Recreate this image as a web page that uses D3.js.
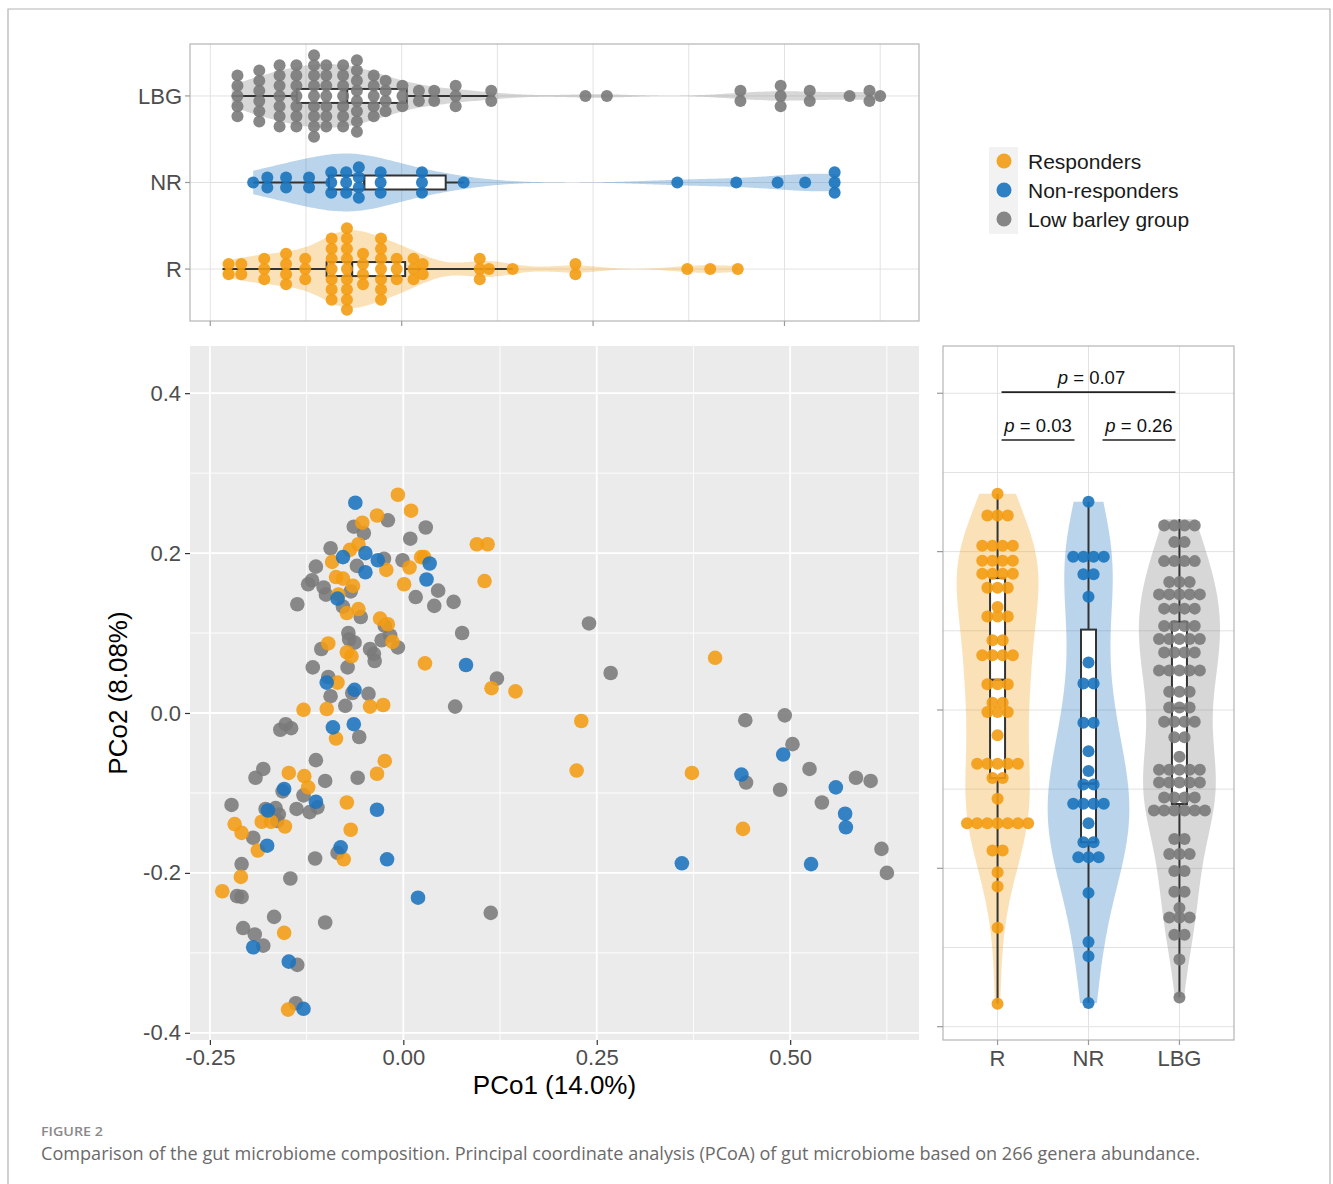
<!DOCTYPE html>
<html><head><meta charset="utf-8">
<script src="https://cdn.jsdelivr.net/npm/d3@7"></script>
<style>body{margin:0;background:#fff} svg{display:block}</style>
</head><body><svg id="c" width="1333" height="1184"></svg>
<script>
// ---------------- DATA ----------------
const groups = ["R", "NR", "LBG"];
const groupNames = ["Responders", "Non-responders", "Low barley group"];
const groupColors = ["#f39c12", "#1a73bd", "#7a7a7a"];

// [PCo1, PCo2] per sample
const respondersPCo = [
  [-0.007,0.273],[0.010,0.253],[-0.034,0.247],[-0.053,0.238],[-0.058,0.211],[-0.069,0.204],[-0.092,0.189],
  [-0.022,0.179],[0.008,0.182],[0.023,0.195],[0.027,0.195],[-0.087,0.170],[-0.078,0.168],[-0.065,0.159],
  [0.001,0.161],[-0.084,0.148],[-0.073,0.125],[-0.058,0.130],[-0.030,0.118],[-0.020,0.111],[-0.014,0.089],
  [-0.097,0.087],[-0.073,0.076],[-0.067,0.071],[0.028,0.062],[-0.085,0.038],[-0.129,0.004],[-0.099,0.005],
  [-0.043,0.008],[-0.026,0.010],[0.095,0.211],[0.109,0.211],[0.105,0.165],[0.114,0.031],[0.145,0.027],
  [0.230,-0.010],[0.224,-0.072],[0.403,0.069],[0.373,-0.075],[0.439,-0.145],[-0.087,-0.032],[-0.024,-0.060],
  [-0.034,-0.076],[-0.148,-0.075],[-0.128,-0.079],[-0.123,-0.093],[-0.073,-0.112],[-0.218,-0.139],[-0.209,-0.150],
  [-0.183,-0.136],[-0.171,-0.136],[-0.153,-0.142],[-0.068,-0.146],[-0.188,-0.172],[-0.077,-0.183],[-0.210,-0.205],
  [-0.234,-0.223],[-0.154,-0.275],[-0.149,-0.371]
];
const nonRespondersPCo = [
  [-0.062,0.263],[-0.078,0.195],[-0.049,0.200],[-0.033,0.191],[-0.049,0.176],[0.034,0.187],[0.030,0.167],
  [-0.085,0.143],[-0.099,0.038],[-0.063,0.029],[-0.064,-0.014],[-0.091,-0.018],[-0.154,-0.095],[-0.113,-0.111],
  [-0.175,-0.122],[-0.034,-0.121],[-0.176,-0.166],[-0.081,-0.168],[-0.021,-0.183],[0.019,-0.231],[-0.194,-0.293],
  [-0.148,-0.311],[-0.129,-0.370],[0.081,0.060],[0.491,-0.052],[0.437,-0.077],[0.559,-0.093],[0.571,-0.126],
  [0.572,-0.143],[0.360,-0.188],[0.527,-0.189]
];
const lowBarleyPCo = [
  [-0.020,0.241],[-0.064,0.233],[-0.051,0.225],[0.009,0.218],[0.029,0.232],[-0.094,0.206],[-0.025,0.193],
  [-0.001,0.191],[-0.060,0.184],[-0.113,0.183],[-0.118,0.166],[-0.123,0.161],[-0.103,0.157],[-0.100,0.148],
  [-0.068,0.152],[0.016,0.145],[-0.137,0.136],[-0.078,0.133],[-0.055,0.120],[-0.071,0.100],[-0.063,0.088],
  [-0.070,0.092],[-0.028,0.091],[-0.017,0.097],[-0.007,0.082],[-0.043,0.080],[-0.038,0.074],[-0.037,0.065],
  [-0.024,0.109],[-0.106,0.080],[-0.117,0.057],[-0.072,0.057],[-0.097,0.045],[-0.094,0.021],[-0.066,0.025],
  [-0.045,0.024],[-0.075,0.009],[0.045,0.153],[0.040,0.134],[0.065,0.139],[0.076,0.100],[0.121,0.043],
  [0.067,0.008],[0.240,0.112],[0.268,0.050],[0.442,-0.009],[0.493,-0.003],[0.503,-0.039],[0.443,-0.087],
  [0.525,-0.070],[0.487,-0.096],[0.541,-0.112],[0.585,-0.081],[0.604,-0.085],[0.618,-0.170],[0.625,-0.200],
  [0.113,-0.250],[-0.152,-0.014],[-0.159,-0.021],[-0.145,-0.019],[-0.057,-0.030],[-0.113,-0.059],[-0.181,-0.070],
  [-0.191,-0.081],[-0.101,-0.085],[-0.059,-0.081],[-0.129,-0.103],[-0.156,-0.098],[-0.222,-0.115],[-0.178,-0.120],
  [-0.165,-0.119],[-0.138,-0.120],[-0.121,-0.124],[-0.111,-0.118],[-0.161,-0.127],[-0.163,-0.135],[-0.194,-0.156],
  [-0.114,-0.182],[-0.085,-0.175],[-0.209,-0.189],[-0.146,-0.207],[-0.215,-0.229],[-0.209,-0.230],[-0.167,-0.255],
  [-0.101,-0.262],[-0.207,-0.269],[-0.192,-0.277],[-0.181,-0.291],[-0.137,-0.315],[-0.139,-0.363]
];

const xTicks = [-0.25, 0, 0.25, 0.5];
const xTickLabels = ["-0.25", "0.00", "0.25", "0.50"];
const xMinorTicks = [-0.125, 0.125, 0.375, 0.625];
const yTicks = [0.4, 0.2, 0, -0.2, -0.4];
const yTickLabels = ["0.4", "0.2", "0.0", "-0.2", "-0.4"];
const yMinorTicks = [0.3, 0.1, -0.1, -0.3];
const xTitle = "PCo1 (14.0%)";
const yTitle = "PCo2 (8.08%)";
// pairwise tests on PCo2
const pComparisons = [
  {a: "R", b: "NR", p: "0.03", level: 1},
  {a: "NR", b: "LBG", p: "0.26", level: 1},
  {a: "R", b: "LBG", p: "0.07", level: 2}
];
const figureLabel = "FIGURE 2";
const captionText = "Comparison of the gut microbiome composition. Principal coordinate analysis (PCoA) of gut microbiome based on 266 genera abundance.";

// ---------------- SETUP ----------------
const dataByGroup = {R: respondersPCo, NR: nonRespondersPCo, LBG: lowBarleyPCo};
const colorOf = Object.fromEntries(groups.map((g, i) => [g, groupColors[i]]));
const svg = d3.select("#c");
const FONT = "'Liberation Sans', Arial, Helvetica, sans-serif";

// panels
const pMain = {x0: 190, x1: 919, y0: 346, y1: 1040};
const pTop = {x0: 190, x1: 919, y0: 44, y1: 321};
const pRight = {x0: 943, x1: 1234, y0: 346, y1: 1040};

const xMain = d3.scaleLinear().domain([-0.2757, 0.6665]).range([pMain.x0, pMain.x1]);
const yMain = d3.scaleLinear().domain([-0.409, 0.459]).range([pMain.y1, pMain.y0]);
const xTop = d3.scaleLinear().domain([-0.2765, 0.6757]).range([pTop.x0, pTop.x1]);
const yTopCat = d3.scalePoint().domain(["R", "NR", "LBG"]).range([pTop.y1, pTop.y0]).padding(0.6);
const xRightCat = d3.scalePoint().domain(groups).range([pRight.x0, pRight.x1]).padding(0.6);
const yRight = d3.scaleLinear().domain([-0.4177, 0.4597]).range([pRight.y1 + 0.7, pRight.y0]);

// outer frame
svg.append("path").attr("d", "M8,1184V9H1330V1184").attr("fill", "none").attr("stroke", "#b4b4b4").attr("stroke-width", 1.2);

// ---------------- helpers ----------------
function kde(vals) {
  const s = vals.slice().sort(d3.ascending);
  const n = s.length;
  const sd = d3.deviation(s);
  const iqr = d3.quantileSorted(s, 0.75) - d3.quantileSorted(s, 0.25);
  const lo = Math.min(sd, iqr / 1.34) || sd;
  const bw = 0.9 * lo * Math.pow(n, -0.2);
  const mn = s[0], mx = s[n - 1];
  const pts = [];
  for (let i = 0; i < 256; i++) {
    const x = mn + (mx - mn) * i / 255;
    let d = 0;
    for (const v of s) { const u = (x - v) / bw; d += Math.exp(-0.5 * u * u); }
    pts.push([x, d / (n * bw * Math.sqrt(2 * Math.PI))]);
  }
  return pts;
}
function boxStats(vals) {
  const s = vals.slice().sort(d3.ascending);
  const q1 = d3.quantileSorted(s, 0.25), med = d3.quantileSorted(s, 0.5), q3 = d3.quantileSorted(s, 0.75);
  const iqr = q3 - q1;
  const lo = d3.min(s.filter(v => v >= q1 - 1.5 * iqr));
  const hi = d3.max(s.filter(v => v <= q3 + 1.5 * iqr));
  return {q1, med, q3, lo, hi};
}
function dotBins(vals, bw) {
  const s = vals.slice().sort(d3.ascending);
  const bins = [];
  let i = 0;
  while (i < s.length) {
    let j = i;
    while (j < s.length && s[j] < s[i] + bw) j++;
    bins.push({center: (s[i] + s[j - 1]) / 2, count: j - i});
    i = j;
  }
  return bins;
}
const DOT_R = 6, DOT_STEP = 10.2;

// ---------------- TOP PANEL (PCo1 by group) ----------------
const gTop = svg.append("g");
gTop.append("rect").attr("x", pTop.x0).attr("y", pTop.y0).attr("width", pTop.x1 - pTop.x0).attr("height", pTop.y1 - pTop.y0).attr("fill", "#fff");
gTop.selectAll("line.vg").data(xTicks.concat(xMinorTicks)).join("line")
  .attr("x1", d => xTop(d)).attr("x2", d => xTop(d)).attr("y1", pTop.y0).attr("y2", pTop.y1)
  .attr("stroke", "#e2e2e2").attr("stroke-width", 1);
gTop.selectAll("line.hg").data(groups).join("line")
  .attr("x1", pTop.x0).attr("x2", pTop.x1).attr("y1", d => yTopCat(d)).attr("y2", d => yTopCat(d))
  .attr("stroke", "#e2e2e2").attr("stroke-width", 1);

const topDens = groups.map(g => kde(dataByGroup[g].map(d => d[0])));
const topMax = d3.max(topDens, ds => d3.max(ds, d => d[1]));
const topHalf = 0.45 * yTopCat.step();
groups.forEach((g, i) => {
  const cy = yTopCat(g);
  const area = d3.area().x(d => xTop(d[0])).y0(d => cy - d[1] / topMax * topHalf).y1(d => cy + d[1] / topMax * topHalf).curve(d3.curveBasis);
  gTop.append("path").attr("d", area(topDens[i])).attr("fill", colorOf[g]).attr("fill-opacity", 0.3);
});
groups.forEach(g => {
  const cy = yTopCat(g);
  const b = boxStats(dataByGroup[g].map(d => d[0]));
  const h = 14;
  gTop.append("line").attr("x1", xTop(b.lo)).attr("x2", xTop(b.q1)).attr("y1", cy).attr("y2", cy).attr("stroke", "#333").attr("stroke-width", 2);
  gTop.append("line").attr("x1", xTop(b.q3)).attr("x2", xTop(b.hi)).attr("y1", cy).attr("y2", cy).attr("stroke", "#333").attr("stroke-width", 2);
  gTop.append("rect").attr("x", xTop(b.q1)).attr("y", cy - h / 2).attr("width", xTop(b.q3) - xTop(b.q1)).attr("height", h)
    .attr("fill", "#fff").attr("stroke", "#333").attr("stroke-width", 2);
  gTop.append("line").attr("x1", xTop(b.med)).attr("x2", xTop(b.med)).attr("y1", cy - h / 2).attr("y2", cy + h / 2).attr("stroke", "#333").attr("stroke-width", 2.5);
});
groups.forEach(g => {
  const cy = yTopCat(g);
  const bins = dotBins(dataByGroup[g].map(d => d[0]), 0.0175);
  const pts = [];
  bins.forEach(b => { for (let k = 0; k < b.count; k++) pts.push([b.center, (k - (b.count - 1) / 2) * DOT_STEP]); });
  gTop.selectAll(null).data(pts).join("circle")
    .attr("cx", d => xTop(d[0])).attr("cy", d => cy + d[1]).attr("r", DOT_R)
    .attr("fill", colorOf[g]).attr("fill-opacity", 0.9);
});
gTop.append("rect").attr("x", pTop.x0).attr("y", pTop.y0).attr("width", pTop.x1 - pTop.x0).attr("height", pTop.y1 - pTop.y0)
  .attr("fill", "none").attr("stroke", "#b5b5b5").attr("stroke-width", 1.2);
gTop.selectAll("line.bt").data(xTicks).join("line")
  .attr("x1", d => xTop(d)).attr("x2", d => xTop(d)).attr("y1", pTop.y1).attr("y2", pTop.y1 + 5).attr("stroke", "#9a9a9a").attr("stroke-width", 1.2);
gTop.selectAll("line.lt").data(groups).join("line")
  .attr("x1", pTop.x0 - 5).attr("x2", pTop.x0).attr("y1", d => yTopCat(d)).attr("y2", d => yTopCat(d)).attr("stroke", "#9a9a9a").attr("stroke-width", 1.2);
gTop.selectAll("text.cat").data(groups).join("text")
  .attr("x", 182).attr("y", d => yTopCat(d)).attr("dy", "0.36em").attr("text-anchor", "end")
  .attr("font-family", FONT).attr("font-size", 22).attr("fill", "#4d4d4d").text(d => d);

// ---------------- MAIN SCATTER ----------------
const gMain = svg.append("g");
gMain.append("rect").attr("x", pMain.x0).attr("y", pMain.y0).attr("width", pMain.x1 - pMain.x0).attr("height", pMain.y1 - pMain.y0).attr("fill", "#ebebeb");
gMain.selectAll("line.xm").data(xMinorTicks).join("line")
  .attr("x1", d => xMain(d)).attr("x2", d => xMain(d)).attr("y1", pMain.y0).attr("y2", pMain.y1).attr("stroke", "#fff").attr("stroke-width", 0.9);
gMain.selectAll("line.ym").data(yMinorTicks).join("line")
  .attr("y1", d => yMain(d)).attr("y2", d => yMain(d)).attr("x1", pMain.x0).attr("x2", pMain.x1).attr("stroke", "#fff").attr("stroke-width", 0.9);
gMain.selectAll("line.xM").data(xTicks).join("line")
  .attr("x1", d => xMain(d)).attr("x2", d => xMain(d)).attr("y1", pMain.y0).attr("y2", pMain.y1).attr("stroke", "#fff").attr("stroke-width", 1.8);
gMain.selectAll("line.yM").data(yTicks).join("line")
  .attr("y1", d => yMain(d)).attr("y2", d => yMain(d)).attr("x1", pMain.x0).attr("x2", pMain.x1).attr("stroke", "#fff").attr("stroke-width", 1.8);

["LBG", "R", "NR"].forEach(g => {
  gMain.selectAll(null).data(dataByGroup[g]).join("circle")
    .attr("cx", d => xMain(d[0])).attr("cy", d => yMain(d[1])).attr("r", 7.3)
    .attr("fill", colorOf[g]).attr("fill-opacity", 0.88);
});
// axes
const xAxis = d3.axisBottom(xMain).tickValues(xTicks).tickFormat((d, i) => xTickLabels[i]).tickSize(5).tickPadding(4);
const gx = svg.append("g").attr("transform", `translate(0,${pMain.y1})`).call(xAxis);
gx.select(".domain").remove();
gx.selectAll("line").attr("stroke", "#333").attr("stroke-width", 1.2);
gx.selectAll("text").attr("font-family", FONT).attr("font-size", 22).attr("fill", "#4d4d4d");
const yAxis = d3.axisLeft(yMain).tickValues(yTicks).tickFormat((d, i) => yTickLabels[i]).tickSize(5).tickPadding(4);
const gy = svg.append("g").attr("transform", `translate(${pMain.x0},0)`).call(yAxis);
gy.select(".domain").remove();
gy.selectAll("line").attr("stroke", "#333").attr("stroke-width", 1.2);
gy.selectAll("text").attr("font-family", FONT).attr("font-size", 22).attr("fill", "#4d4d4d");

svg.append("text").attr("x", (pMain.x0 + pMain.x1) / 2).attr("y", 1094).attr("text-anchor", "middle")
  .attr("font-family", FONT).attr("font-size", 26).attr("fill", "#000").text(xTitle);
svg.append("text").attr("transform", `translate(127,${(pMain.y0 + pMain.y1) / 2}) rotate(-90)`).attr("text-anchor", "middle")
  .attr("font-family", FONT).attr("font-size", 26).attr("fill", "#000").text(yTitle);

// ---------------- RIGHT PANEL (PCo2 by group) ----------------
const gR = svg.append("g");
gR.append("rect").attr("x", pRight.x0).attr("y", pRight.y0).attr("width", pRight.x1 - pRight.x0).attr("height", pRight.y1 - pRight.y0).attr("fill", "#fff");
gR.selectAll("line.hg").data(yTicks.concat(yMinorTicks)).join("line")
  .attr("x1", pRight.x0).attr("x2", pRight.x1).attr("y1", d => yRight(d)).attr("y2", d => yRight(d)).attr("stroke", "#e2e2e2").attr("stroke-width", 1);
gR.selectAll("line.vg").data(groups).join("line")
  .attr("x1", d => xRightCat(d)).attr("x2", d => xRightCat(d)).attr("y1", pRight.y0).attr("y2", pRight.y1).attr("stroke", "#e2e2e2").attr("stroke-width", 1);

const rDens = groups.map(g => kde(dataByGroup[g].map(d => d[1])));
const rMax = d3.max(rDens, ds => d3.max(ds, d => d[1]));
const rHalf = 0.45 * xRightCat.step();
groups.forEach((g, i) => {
  const cx = xRightCat(g);
  const area = d3.area().y(d => yRight(d[0])).x0(d => cx - d[1] / rMax * rHalf).x1(d => cx + d[1] / rMax * rHalf).curve(d3.curveBasis);
  gR.append("path").attr("d", area(rDens[i])).attr("fill", colorOf[g]).attr("fill-opacity", 0.3);
});
groups.forEach(g => {
  const cx = xRightCat(g);
  const b = boxStats(dataByGroup[g].map(d => d[1]));
  const w = 15;
  gR.append("line").attr("y1", yRight(b.lo)).attr("y2", yRight(b.q1)).attr("x1", cx).attr("x2", cx).attr("stroke", "#333").attr("stroke-width", 2);
  gR.append("line").attr("y1", yRight(b.q3)).attr("y2", yRight(b.hi)).attr("x1", cx).attr("x2", cx).attr("stroke", "#333").attr("stroke-width", 2);
  gR.append("rect").attr("x", cx - w / 2).attr("y", yRight(b.q3)).attr("width", w).attr("height", yRight(b.q1) - yRight(b.q3))
    .attr("fill", "#fff").attr("stroke", "#333").attr("stroke-width", 2);
  gR.append("line").attr("x1", cx - w / 2).attr("x2", cx + w / 2).attr("y1", yRight(b.med)).attr("y2", yRight(b.med)).attr("stroke", "#333").attr("stroke-width", 2.5);
});
groups.forEach(g => {
  const cx = xRightCat(g);
  const bins = dotBins(dataByGroup[g].map(d => d[1]), 0.017);
  const pts = [];
  bins.forEach(b => { for (let k = 0; k < b.count; k++) pts.push([b.center, (k - (b.count - 1) / 2) * DOT_STEP]); });
  gR.selectAll(null).data(pts).join("circle")
    .attr("cx", d => cx + d[1]).attr("cy", d => yRight(d[0])).attr("r", DOT_R)
    .attr("fill", colorOf[g]).attr("fill-opacity", 0.9);
});
gR.append("rect").attr("x", pRight.x0).attr("y", pRight.y0).attr("width", pRight.x1 - pRight.x0).attr("height", pRight.y1 - pRight.y0)
  .attr("fill", "none").attr("stroke", "#b5b5b5").attr("stroke-width", 1.2);
gR.selectAll("line.lt").data(yTicks).join("line")
  .attr("x1", pRight.x0 - 6).attr("x2", pRight.x0).attr("y1", d => yRight(d)).attr("y2", d => yRight(d)).attr("stroke", "#9a9a9a").attr("stroke-width", 1.2);
gR.selectAll("line.bt").data(groups).join("line")
  .attr("x1", d => xRightCat(d)).attr("x2", d => xRightCat(d)).attr("y1", pRight.y1).attr("y2", pRight.y1 + 5).attr("stroke", "#9a9a9a").attr("stroke-width", 1.2);
gR.selectAll("text.cat").data(groups).join("text")
  .attr("x", d => xRightCat(d)).attr("y", 1066).attr("text-anchor", "middle")
  .attr("font-family", FONT).attr("font-size", 22).attr("fill", "#4d4d4d").text(d => d);

// significance brackets
const levelY = {1: 0.341, 2: 0.4015};
pComparisons.forEach(c => {
  const xa = xRightCat(c.a) + (c.a === "R" ? 4 : 14);
  const xb = xRightCat(c.b) - (c.b === "LBG" ? 4 : 14);
  const y = yRight(levelY[c.level]);
  gR.append("line").attr("x1", xa).attr("x2", xb).attr("y1", y).attr("y2", y).attr("stroke", "#222").attr("stroke-width", 1.6);
  const t = gR.append("text").attr("x", (xa + xb) / 2 + (c.level === 2 ? 3 : 0)).attr("y", y - 8).attr("text-anchor", "middle")
    .attr("font-family", FONT).attr("font-size", 18.5).attr("fill", "#111");
  t.append("tspan").attr("font-style", "italic").text("p");
  t.append("tspan").text(" = " + c.p);
});

// ---------------- LEGEND ----------------
const gL = svg.append("g");
gL.append("rect").attr("x", 989).attr("y", 147).attr("width", 29).attr("height", 87).attr("fill", "#f2f2f2");
groups.forEach((g, i) => {
  const cy = 161 + i * 29;
  gL.append("circle").attr("cx", 1004).attr("cy", cy).attr("r", 7.5).attr("fill", colorOf[g]).attr("fill-opacity", 0.9);
  gL.append("text").attr("x", 1028).attr("y", cy).attr("dy", "0.36em").attr("font-family", FONT).attr("font-size", 21).attr("fill", "#1a1a1a").text(groupNames[i]);
});

// ---------------- CAPTION ----------------
svg.append("text").attr("x", 41).attr("y", 1136).attr("font-family", "'Open Sans', 'Noto Sans', sans-serif").attr("font-size", 13)
  .attr("font-weight", 600).attr("fill", "#8a8a8a").attr("textLength", 62).attr("lengthAdjust", "spacingAndGlyphs").text(figureLabel);
svg.append("text").attr("x", 41).attr("y", 1160).attr("font-family", "'Open Sans', 'Noto Sans', sans-serif").attr("font-size", 17.5)
  .attr("fill", "#6a6a6a").attr("textLength", 1159).attr("lengthAdjust", "spacingAndGlyphs").text(captionText);
</script>
</body></html>
